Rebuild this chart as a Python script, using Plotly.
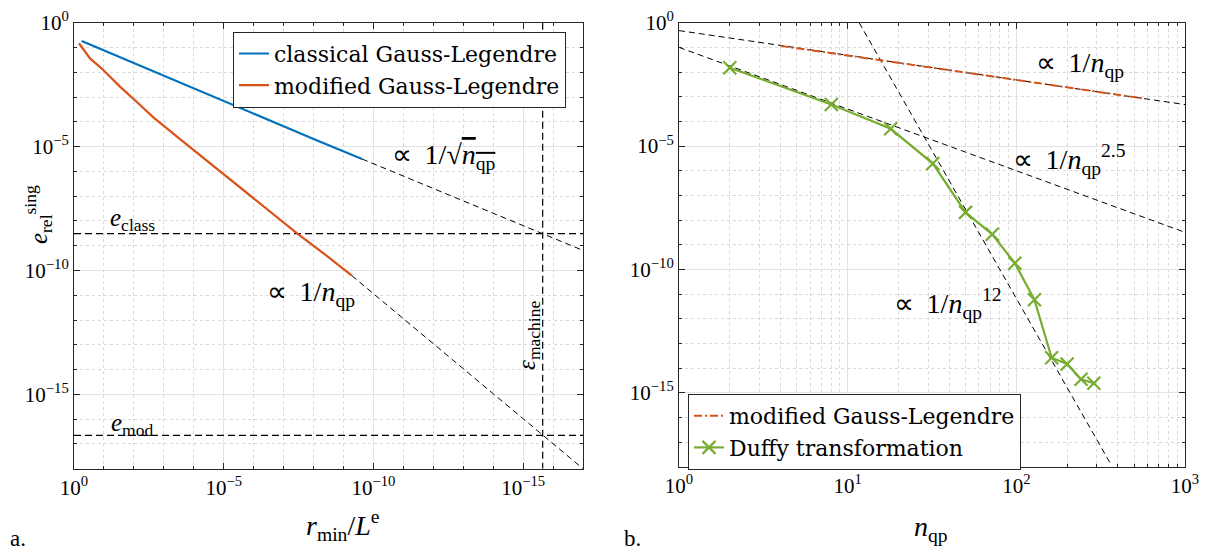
import plotly.graph_objects as go

# ---------------- data: panel a ----------------
r_class = [0.555, 1e-1, 1e-2, 1e-3, 1e-4, 1e-5, 1e-6, 1e-7, 1e-8, 1e-9, 2.4e-10]
e_class_curve = [0.182, 0.0759, 0.0229, 6.92e-3, 2.09e-3, 6.61e-4, 2.09e-4, 6.61e-5, 2.04e-5, 6.46e-6, 3.16e-6]

r_mod = [0.68, 0.292, 0.105, 0.0291, 8.13e-3, 2.24e-3, 3.16e-4, 3.16e-5, 3.16e-6, 3.16e-7, 3.55e-8, 3.98e-9, 5.25e-10]
e_mod_curve = [0.148, 0.0363, 0.0123, 2.63e-3, 6.46e-4, 1.51e-4, 2.19e-5, 2.34e-6, 2.51e-7, 2.82e-8, 3.16e-9, 4.27e-10, 6.17e-11]

guide_sqrt_r = [2.4e-10, 1e-17]
guide_sqrt_e = [3.16e-6, 6.46e-10]
guide_lin_r = [5.25e-10, 1e-17]
guide_lin_e = [6.17e-11, 1e-18]
e_class_level = 3.05e-9
e_mod_level = 2.2e-17
eps_machine = 2.22e-16

# ---------------- data: panel b ----------------
n_duffy = [2, 8, 18, 32, 50, 72, 98, 128, 162, 200, 242, 288]
e_duffy = [1.5e-2, 4.8e-4, 5.0e-5, 1.95e-6, 2.04e-8, 2.63e-9, 1.78e-10, 5.9e-12, 2.6e-14, 1.45e-14, 3.5e-15, 2.4e-15]

n_modb = [4, 10, 30, 100, 300, 578]
e_modb = [0.115, 0.048, 0.0158, 4.8e-3, 1.6e-3, 8.3e-4]

g1_n = [1, 1000]
g1_e = [0.479, 4.79e-4]
g25_n = [1, 1000]
g25_e = [0.1, 3.16e-9]
g12_n = [11.7, 360]
g12_e = [1.0, 1.4e-18]

y_tickvals = [1, 1e-5, 1e-10, 1e-15]
y_ticktext = ["10<sup>0</sup>", "10<sup>\u22125</sup>", "10<sup>\u221210</sup>", "10<sup>\u221215</sup>"]
xa_tickvals = [1, 1e-5, 1e-10, 1e-15]
xa_ticktext = ["10<sup>0</sup>", "10<sup>\u22125</sup>", "10<sup>\u221210</sup>", "10<sup>\u221215</sup>"]
xb_tickvals = [1, 10, 100, 1000]
xb_ticktext = ["10<sup>0</sup>", "10<sup>1</sup>", "10<sup>2</sup>", "10<sup>3</sup>"]

BLUE = "#0072BD"
ORANGE = "#D95319"
GREEN = "#77AC30"
AX = "#262626"
SERIF = "Liberation Serif, Times New Roman, serif"
LEGF = "DejaVu Serif, serif"

fig = go.Figure()

dash_style = dict(color="black", width=1, dash="6px,4px")
hdash = dict(color="black", width=1.2, dash="7px,4px")

# panel a guides
fig.add_trace(go.Scatter(x=[1, 1e-17], y=[e_class_level, e_class_level], mode="lines",
                         line=hdash, showlegend=False, xaxis="x", yaxis="y"))
fig.add_trace(go.Scatter(x=[1, 1e-17], y=[e_mod_level, e_mod_level], mode="lines",
                         line=hdash, showlegend=False, xaxis="x", yaxis="y"))
fig.add_trace(go.Scatter(x=[eps_machine, eps_machine], y=[1, 1e-18], mode="lines",
                         line=hdash, showlegend=False, xaxis="x", yaxis="y"))
fig.add_trace(go.Scatter(x=guide_sqrt_r, y=guide_sqrt_e, mode="lines", line=dash_style,
                         showlegend=False, xaxis="x", yaxis="y"))
fig.add_trace(go.Scatter(x=guide_lin_r, y=guide_lin_e, mode="lines", line=dash_style,
                         showlegend=False, xaxis="x", yaxis="y"))

fig.add_trace(go.Scatter(x=r_class, y=e_class_curve, mode="lines", name="classical Gauss-Legendre",
                         line=dict(color=BLUE, width=2.2), xaxis="x", yaxis="y", legend="legend"))
fig.add_trace(go.Scatter(x=r_mod, y=e_mod_curve, mode="lines", name="modified Gauss-Legendre",
                         line=dict(color=ORANGE, width=2.2), xaxis="x", yaxis="y", legend="legend"))

# panel b guides
for gx, gy in [(g1_n, g1_e), (g25_n, g25_e), (g12_n, g12_e)]:
    fig.add_trace(go.Scatter(x=gx, y=gy, mode="lines", line=dash_style,
                             showlegend=False, xaxis="x2", yaxis="y2"))

fig.add_trace(go.Scatter(x=n_modb, y=e_modb, mode="lines", name="modified Gauss-Legendre",
                         line=dict(color=ORANGE, width=2, dash="8px,3px,2px,3px"),
                         xaxis="x2", yaxis="y2", legend="legend2"))
fig.add_trace(go.Scatter(x=n_duffy, y=e_duffy, mode="lines+markers", name="Duffy transformation",
                         line=dict(color=GREEN, width=2.2),
                         marker=dict(symbol="x-thin", size=13, color=GREEN, line=dict(width=2.2, color=GREEN)),
                         xaxis="x2", yaxis="y2", legend="legend2"))

tickfont = dict(family=SERIF, size=21, color="black")
minor_grid = dict(ticks="inside", ticklen=3, tickcolor=AX, showgrid=True,
                  gridcolor="#d9d9d9", griddash="dot", gridwidth=1)

def axis_common():
    return dict(type="log", showline=True, linecolor=AX, linewidth=1, mirror="allticks",
                ticks="inside", ticklen=6, tickcolor=AX, showgrid=True, gridcolor="#e3e3e3",
                gridwidth=1, zeroline=False, tickfont=tickfont, tickmode="array", automargin=False)

y_minor = [10.0 ** (-k) for k in range(1, 18) if k % 5 != 0]
xa_minor = [10.0 ** (-k) for k in range(1, 17) if k % 5 != 0]
xb_minor = [m * 10.0 ** d for d in range(0, 3) for m in range(2, 10)]

xa = axis_common(); xa.update(domain=[0.06106, 0.48102], range=[0, -17], tickvals=xa_tickvals,
                              ticktext=xa_ticktext, anchor="y", minor=dict(tickvals=xa_minor, **minor_grid))
ya = axis_common(); ya.update(domain=[0.15244, 0.95895], range=[-18, 0], tickvals=y_tickvals,
                              ticktext=y_ticktext, anchor="x", minor=dict(tickvals=y_minor, **minor_grid))
xb = axis_common(); xb.update(domain=[0.56023, 0.97772], range=[0, 3], tickvals=xb_tickvals,
                              ticktext=xb_ticktext, anchor="y2", minor=dict(tickvals=xb_minor, **minor_grid))
yb = axis_common(); yb.update(domain=[0.15606, 0.95895], range=[-18, 0], tickvals=y_tickvals,
                              ticktext=y_ticktext, anchor="x2", minor=dict(tickvals=y_minor, **minor_grid))

def ann(text, x, y, size=24, angle=0, family=SERIF, yanchor="middle"):
    return dict(text=text, x=x, y=y, xref="paper", yref="paper", showarrow=False,
                xanchor="center", yanchor=yanchor, textangle=angle,
                font=dict(family=family, size=size, color="black"))

annotations = [
    ann("\u221d\u2009 1/\u221a<span style='text-decoration:overline'><i>n</i><sub>qp</sub></span>",
        0.3663, 0.7161, 28),
    ann("<i>e</i><sub>class</sub>", 0.1097, 0.6022, 25),
    ann("\u221d\u2009 1/<i>n</i><sub>qp</sub>", 0.2566, 0.4684, 28),
    ann("<i>e</i><sub>mod</sub>", 0.1089, 0.2315, 25),
    ann("<i>\u03b5</i><sub>machine</sub>", 0.4356, 0.3942, 25, angle=-90),
    ann("<i>e</i><sub>rel</sub><sup>sing</sup>", 0.0314, 0.6112, 25, angle=-90),
    ann("<i>r</i><sub>min</sub>/<i>L</i><sup>e</sup>", 0.2830, 0.0506, 28),
    ann("a.", 0.01485, 0.0, 23, yanchor="bottom"),
    ann("\u221d\u2009 1/<i>n</i><sub>qp</sub>", 0.8911, 0.8825, 28),
    ann("\u221d\u2009 1/<i>n</i><sub>qp</sub><sup>2.5</sup>", 0.8828, 0.7107, 28),
    ann("\u221d\u2009 1/<i>n</i><sub>qp</sub><sup>12</sup>", 0.7822, 0.4503, 28),
    ann("<i>n</i><sub>qp</sub>", 0.7682, 0.0452, 28),
    ann("b.", 0.5215, 0.0, 23, yanchor="bottom"),
]

legend_common = dict(bgcolor="white", bordercolor=AX, borderwidth=1,
                     font=dict(family=LEGF, size=22, color="black"),
                     xanchor="left", yanchor="top", tracegroupgap=0, itemwidth=30)

fig.update_layout(
    width=1212, height=553,
    margin=dict(l=0, r=0, t=0, b=0, pad=0, autoexpand=False),
    paper_bgcolor="white", plot_bgcolor="white",
    xaxis=xa, yaxis=ya, xaxis2=xb, yaxis2=yb,
    annotations=annotations,
    legend=dict(x=233 / 1212, y=1 - 31.7 / 553, **legend_common),
    legend2=dict(x=688 / 1212, y=1 - 394 / 553, **legend_common),
)

fig.write_html("out.html", post_script="document.body.style.margin='0px';document.body.style.overflow='hidden';")
